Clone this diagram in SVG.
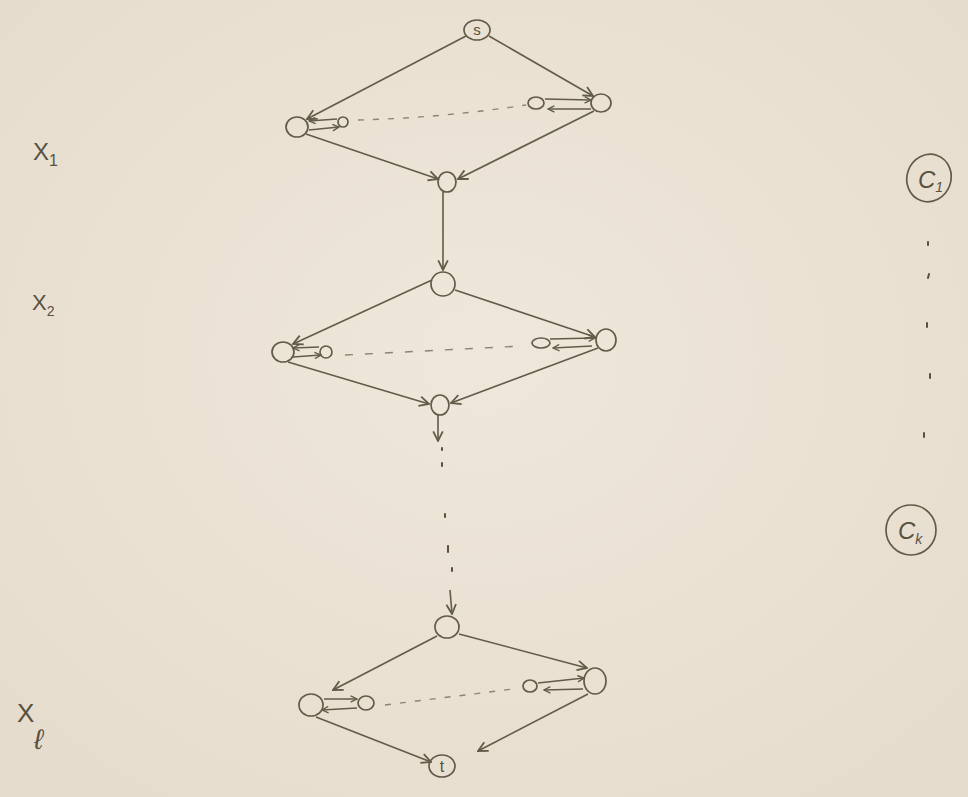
<svg xmlns="http://www.w3.org/2000/svg" width="968" height="797" viewBox="0 0 968 797">
<defs>
<marker id="ah" viewBox="0 0 10 10" refX="9" refY="5" markerWidth="12" markerHeight="12" markerUnits="userSpaceOnUse" orient="auto">
<path d="M1,1 L9,5 L1,9" fill="none" stroke="#625b48" stroke-width="1.5"/>
</marker>
<marker id="as" viewBox="0 0 10 10" refX="9" refY="5" markerWidth="8" markerHeight="8" markerUnits="userSpaceOnUse" orient="auto">
<path d="M1,1 L9,5 L1,9" fill="none" stroke="#625b48" stroke-width="1.7"/>
</marker>
<radialGradient id="bg" cx="50%" cy="45%" r="70%">
<stop offset="0" stop-color="#efe7db"/>
<stop offset="1" stop-color="#e6dccd"/>
</radialGradient>
</defs>
<style>
.n{fill:none;stroke:#625b48;stroke-width:1.7}
.e{fill:none;stroke:#625b48;stroke-width:1.6;marker-end:url(#ah)}
.p{fill:none;stroke:#625b48;stroke-width:1.5;marker-end:url(#as)}
.d{fill:none;stroke:#8a8470;stroke-width:1.4;stroke-dasharray:6 9}
.t{font-family:"Liberation Sans",Arial,sans-serif;fill:#57513f}
.dot{stroke:#57513f;stroke-width:2;stroke-linecap:round}
</style>
<rect width="968" height="797" fill="url(#bg)"/>

<g id="labels">
<text class="t" x="33" y="160" font-size="24">X<tspan font-size="16" dy="6">1</tspan></text>
<text class="t" x="32" y="310" font-size="22">X<tspan font-size="14" dy="6">2</tspan></text>
<text class="t" x="17" y="722" font-size="26">X</text>
<text class="t" x="34" y="749" font-size="28" font-style="italic">ℓ</text>
</g>

<g id="node-s"><ellipse class="n" cx="477" cy="30" rx="13" ry="10"/><text class="t" x="477" y="35" font-size="15" text-anchor="middle">s</text></g>
<g id="node-L1"><ellipse class="n" cx="297" cy="127" rx="11" ry="10"/></g>
<g id="node-L1s"><ellipse class="n" cx="343" cy="122" rx="5" ry="5"/></g>
<g id="node-R1s"><ellipse class="n" cx="536" cy="103" rx="8" ry="6"/></g>
<g id="node-R1"><ellipse class="n" cx="601" cy="103" rx="10" ry="9"/></g>
<g id="node-B1"><ellipse class="n" cx="447" cy="182" rx="9" ry="10"/></g>

<g id="node-T2"><ellipse class="n" cx="443" cy="284" rx="12" ry="12"/></g>
<g id="node-L2"><ellipse class="n" cx="283" cy="352" rx="11" ry="10"/></g>
<g id="node-L2s"><ellipse class="n" cx="326" cy="352" rx="6" ry="6"/></g>
<g id="node-R2s"><ellipse class="n" cx="541" cy="343" rx="9" ry="5"/></g>
<g id="node-R2"><ellipse class="n" cx="606" cy="340" rx="10" ry="11"/></g>
<g id="node-B2"><ellipse class="n" cx="440" cy="405" rx="9" ry="10"/></g>

<g id="node-T3"><ellipse class="n" cx="447" cy="627" rx="12" ry="11"/></g>
<g id="node-L3"><ellipse class="n" cx="311" cy="705" rx="12" ry="11"/></g>
<g id="node-L3s"><ellipse class="n" cx="366" cy="703" rx="8" ry="7"/></g>
<g id="node-R3s"><ellipse class="n" cx="530" cy="686" rx="7" ry="6"/></g>
<g id="node-R3"><ellipse class="n" cx="595" cy="681" rx="11" ry="13"/></g>
<g id="node-t"><ellipse class="n" cx="442" cy="766" rx="13" ry="11"/><text class="t" x="442" y="772" font-size="16" text-anchor="middle">t</text></g>

<g id="node-C1"><ellipse class="n" cx="929" cy="178" rx="22" ry="24" transform="rotate(20 929 178)"/><text class="t" x="918" y="188" font-size="24" font-style="italic">C<tspan font-size="14" dy="4">1</tspan></text></g>
<g id="node-Ck"><ellipse class="n" cx="911" cy="530" rx="25" ry="25"/><text class="t" x="898" y="539" font-size="24" font-style="italic">C<tspan font-size="14" dy="5">k</tspan></text></g>

<g id="connectors">
<path class="e" d="M466,36 L307,119"/>
<path class="e" d="M489,36 L593,96"/>
<path class="e" d="M306,134 L438,179"/>
<path class="e" d="M594,111 L458,179"/>
<path class="e" d="M443,192 L443,270"/>
<path class="p" d="M337,119 L309,121"/>
<path class="p" d="M309,130 L339,127"/>
<path class="p" d="M545,99 L591,100"/>
<path class="p" d="M591,109 L548,109"/>
<path class="d" d="M358,120 Q440,118 526,105"/>

<path class="e" d="M432,280 L293,344"/>
<path class="e" d="M455,290 L595,337"/>
<path class="e" d="M288,362 L429,404"/>
<path class="e" d="M598,348 L451,403"/>
<path class="e" d="M438,415 L438,441"/>
<path class="p" d="M319,347 L293,348"/>
<path class="p" d="M293,357 L321,355"/>
<path class="p" d="M550,339 L595,338"/>
<path class="p" d="M592,346 L553,348"/>
<path class="d" d="M345,355 L522,346" style="stroke-dasharray:8 12"/>

<path class="dot" d="M442,448 L442,450"/>
<path class="dot" d="M442,463 L442,466"/>
<path class="dot" d="M445,514 L445,517"/>
<path class="dot" d="M448,546 L448,552"/>
<path class="dot" d="M452,568 L452,571"/>
<path class="e" d="M450,590 L452,614"/>

<path class="e" d="M437,636 L333,690"/>
<path class="e" d="M459,634 L587,668"/>
<path class="e" d="M316,717 L431,762"/>
<path class="e" d="M588,694 L478,751"/>
<path class="p" d="M324,699 L357,699"/>
<path class="p" d="M357,708 L322,710"/>
<path class="p" d="M538,683 L584,678"/>
<path class="p" d="M583,689 L544,690"/>
<path class="d" d="M385,705 L513,689"/>

<path class="dot" d="M928,242 L928,245"/>
<path class="dot" d="M929,274 L928,278"/>
<path class="dot" d="M927,323 L927,327"/>
<path class="dot" d="M930,374 L930,378"/>
<path class="dot" d="M924,433 L924,437"/>
</g>
</svg>
